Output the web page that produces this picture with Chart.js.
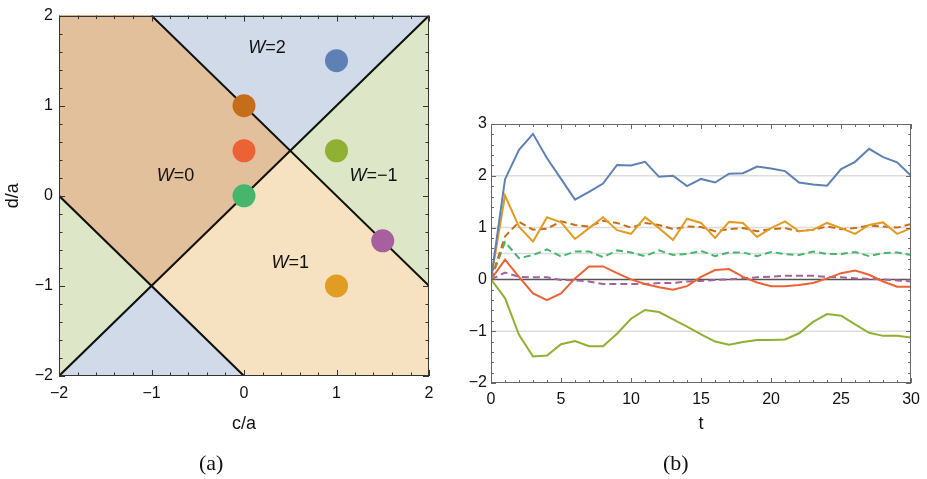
<!DOCTYPE html>
<html>
<head>
<meta charset="utf-8">
<script src="https://cdn.jsdelivr.net/npm/chart.js@4.4.1/dist/chart.umd.min.js"></script>
<style>
  html, body { margin: 0; padding: 0; background: #fff; }
  #wrap { position: relative; width: 927px; height: 479px; overflow: hidden; }
  #phase { position: absolute; left: 0; top: 0; }
  #evo { position: absolute; left: 460px; top: 0; }
  .cap { position: absolute; font-family: "Liberation Serif", "DejaVu Serif", serif; font-size: 22px; color: #111; line-height: 1; }
</style>
</head>
<body>
<div id="wrap">
  <canvas id="phase" width="460" height="479"></canvas>
  <canvas id="evo" width="467" height="479"></canvas>
  <div class="cap" style="left:199px;top:452px">(a)</div>
  <div class="cap" style="left:663px;top:452px">(b)</div>
</div>
<script>
// ---------- phase diagram (c/a, d/a) ----------
const phaseTicks = [-2, -1, 0, 1, 2];

// parameter points (c/a, d/a) and their colours
const pointC = [1, 0, 0, 0, 1, 1.5, 1];
const pointD = [1.5, 1, 0.5, 0, 0.5, -0.5, -1];
const pointColors = ['#5E81B5', '#C56E1A', '#EB6235', '#47B66D', '#8FB032', '#A5609D', '#E19C24'];

// phase boundaries
const diagC = [-2, 2], diagD = [-2, 2];       // d = c
const upperC = [-1, 2], upperD = [2, -1];     // c + d = 1
const lowerC = [-2, 0], lowerD = [0, -2];     // c + d = -2

// winding-number regions (polygon vertices)
const regionW0 = [[-2, 2], [-1, 2], [0.5, 0.5], [-1, -1], [-2, 0]];
const regionW1 = [[0.5, 0.5], [2, -1], [2, -2], [0, -2], [-1, -1]];
const regionW2 = [[-1, 2], [2, 2], [0.5, 0.5]];
const regionWm1 = [[2, 2], [2, -1], [0.5, 0.5]];
const cornerGreen = [[-2, 0], [-1, -1], [-2, -2]];
const cornerBlue = [[-1, -1], [0, -2], [-2, -2]];
const regionPolys = [regionW0, regionW1, regionW2, regionWm1, cornerGreen, cornerBlue];
const regionFills = ['#e2c09c', '#f6e1c0', '#d1dae8', '#dde6c7', '#dde6c7', '#d1dae8'];
const regionEdges = ['#b8743a', '#e0a048', '#6f8cbc', '#8faa4a', '#8faa4a', '#6f8cbc'];

// region labels
const windLabels = ['2', '0', '\u22121', '1'];
const windLabelC = [0.25, -0.74, 1.40, 0.50];
const windLabelD = [1.64, 0.22, 0.22, -0.75];

// ---------- time evolution ----------
const times = [0,1,2,3,4,5,6,7,8,9,10,11,12,13,14,15,16,17,18,19,20,21,22,23,24,25,26,27,28,29,30];
const timeTicks = [0, 5, 10, 15, 20, 25, 30];
const valueTicks = [-2, -1, 0, 1, 2, 3];
const guideValues = [-1, 0.5, 1, 2];

const wBlue   = [0, 1.93, 2.50, 2.81, 2.34, 1.94, 1.54, 1.69, 1.85, 2.21, 2.20, 2.27, 1.98, 2.00, 1.80, 1.94, 1.87, 2.04, 2.05, 2.18, 2.14, 2.09, 1.87, 1.83, 1.81, 2.13, 2.27, 2.52, 2.36, 2.26, 2.00];
const wOrange = [0, 1.62, 1.02, 0.73, 1.20, 1.10, 0.78, 0.99, 1.20, 0.95, 0.88, 1.20, 0.99, 0.76, 1.17, 1.09, 0.80, 1.11, 1.09, 0.82, 0.99, 1.12, 0.93, 0.96, 1.09, 0.99, 0.88, 1.05, 1.10, 0.88, 0.99];
const wBrown  = [0, 0.83, 1.11, 0.96, 0.98, 1.12, 1.05, 1.02, 1.13, 1.09, 1.00, 1.09, 1.05, 0.97, 1.02, 1.01, 0.93, 0.97, 0.99, 0.93, 0.97, 0.99, 0.93, 0.96, 1.02, 0.97, 0.99, 1.04, 1.02, 1.00, 1.07];
const wGreen  = [0, 0.72, 0.41, 0.47, 0.58, 0.44, 0.54, 0.54, 0.43, 0.56, 0.52, 0.45, 0.56, 0.47, 0.49, 0.55, 0.45, 0.52, 0.52, 0.45, 0.53, 0.49, 0.47, 0.54, 0.49, 0.49, 0.53, 0.45, 0.51, 0.52, 0.47];
const wRed    = [0, 0.38, 0.05, -0.27, -0.40, -0.27, 0.02, 0.25, 0.25, 0.12, 0.00, -0.09, -0.15, -0.20, -0.13, 0.05, 0.18, 0.20, 0.05, -0.06, -0.13, -0.13, -0.11, -0.07, 0.02, 0.12, 0.17, 0.09, -0.04, -0.14, -0.14];
const wPurple = [0, 0.13, 0.05, 0.04, 0.04, -0.01, -0.02, -0.04, -0.09, -0.09, -0.09, -0.09, -0.07, -0.07, -0.04, -0.03, -0.01, 0.00, 0.02, 0.04, 0.05, 0.07, 0.07, 0.07, 0.05, 0.04, 0.02, 0.01, 0.00, -0.02, -0.04];
const wOlive  = [0, -0.36, -1.07, -1.49, -1.47, -1.25, -1.19, -1.29, -1.29, -1.05, -0.76, -0.59, -0.63, -0.77, -0.91, -1.06, -1.20, -1.26, -1.21, -1.17, -1.17, -1.16, -1.04, -0.82, -0.67, -0.70, -0.87, -1.03, -1.09, -1.09, -1.12];

const FONT = '"Liberation Sans", Arial, sans-serif';
const fmt = v => String(v).replace('-', '\u2212');
const xy = (xs, ys) => xs.map((v, i) => ({ x: v, y: ys[i] }));

// frame with inward major/minor ticks on all four sides
const frameTicks = {
  id: 'frameTicks',
  afterDatasetsDraw(chart, args, o) {
    const { ctx, chartArea: a, scales: { x, y } } = chart;
    ctx.save();
    ctx.strokeStyle = o.color;
    ctx.lineWidth = 1;
    ctx.beginPath();
    const isMajor = (v, step) => Math.abs(v / step - Math.round(v / step)) < 1e-6;
    for (let v = x.min; v <= x.max + 1e-9; v += o.xMinor) {
      const len = isMajor(v, o.xMajor) ? o.majorLen : o.minorLen;
      const px = Math.round(x.getPixelForValue(v)) + 0.5;
      ctx.moveTo(px, a.bottom); ctx.lineTo(px, a.bottom - len);
      ctx.moveTo(px, a.top); ctx.lineTo(px, a.top + len);
    }
    for (let v = y.min; v <= y.max + 1e-9; v += o.yMinor) {
      const len = isMajor(v, o.yMajor) ? o.majorLen : o.minorLen;
      const py = Math.round(y.getPixelForValue(v)) + 0.5;
      ctx.moveTo(a.left, py); ctx.lineTo(a.left + len, py);
      ctx.moveTo(a.right, py); ctx.lineTo(a.right - len, py);
    }
    ctx.stroke();
    ctx.strokeRect(Math.round(a.left) + 0.5, Math.round(a.top) + 0.5, Math.round(a.width) - 1, Math.round(a.height) - 1);
    ctx.restore();
  }
};

// shaded winding-number regions and their labels
const regionShading = {
  id: 'regionShading',
  beforeDatasetsDraw(chart) {
    const { ctx, chartArea: a, scales: { x, y } } = chart;
    ctx.save();
    ctx.beginPath(); ctx.rect(a.left, a.top, a.width, a.height); ctx.clip();
    regionPolys.forEach((poly, i) => {
      ctx.beginPath();
      poly.forEach(([c, d], k) => {
        const px = x.getPixelForValue(c), py = y.getPixelForValue(d);
        k ? ctx.lineTo(px, py) : ctx.moveTo(px, py);
      });
      ctx.closePath();
      ctx.fillStyle = regionFills[i];
      ctx.fill();
      ctx.strokeStyle = regionEdges[i];
      ctx.lineWidth = 1.5;
      ctx.stroke();
    });
    ctx.fillStyle = '#111';
    ctx.textBaseline = 'middle';
    windLabels.forEach((w, i) => {
      const italic = 'italic 18px ' + FONT, upright = '18px ' + FONT;
      ctx.font = italic; const wW = ctx.measureText('W').width;
      ctx.font = upright; const rW = ctx.measureText('=' + w).width;
      const cx = x.getPixelForValue(windLabelC[i]), cy = y.getPixelForValue(windLabelD[i]);
      const x0 = cx - (wW + rW) / 2;
      ctx.textAlign = 'left';
      ctx.font = italic; ctx.fillText('W', x0, cy);
      ctx.font = upright; ctx.fillText('=' + w, x0 + wW, cy);
    });
    ctx.restore();
  }
};

// horizontal guide lines and the t-axis
const guides = {
  id: 'guides',
  beforeDatasetsDraw(chart) {
    const { ctx, chartArea: a, scales: { y } } = chart;
    ctx.save();
    ctx.lineWidth = 1.5;
    ctx.strokeStyle = '#dcdcdc';
    guideValues.forEach(v => {
      const py = y.getPixelForValue(v);
      ctx.beginPath(); ctx.moveTo(a.left, py); ctx.lineTo(a.right, py); ctx.stroke();
    });
    ctx.strokeStyle = '#555';
    const p0 = y.getPixelForValue(0);
    ctx.beginPath(); ctx.moveTo(a.left, p0); ctx.lineTo(a.right, p0); ctx.stroke();
    ctx.restore();
  }
};

const tickFont = { family: FONT, size: 16 };
const titleFont = { family: FONT, size: 18 };

new Chart(document.getElementById('phase'), {
  type: 'scatter',
  data: {
    datasets: [
      { label: 'points', data: xy(pointC, pointD), pointBackgroundColor: pointColors, pointBorderWidth: 0, pointRadius: 11.5, pointHoverRadius: 11.5 },
      { label: 'd = c', data: xy(diagC, diagD), showLine: true, borderColor: '#111', borderWidth: 2, pointRadius: 0 },
      { label: 'c + d = 1', data: xy(upperC, upperD), showLine: true, borderColor: '#111', borderWidth: 2, pointRadius: 0 },
      { label: 'c + d = -2', data: xy(lowerC, lowerD), showLine: true, borderColor: '#111', borderWidth: 2, pointRadius: 0 }
    ]
  },
  options: {
    responsive: false, animation: false, devicePixelRatio: 1,
    layout: { padding: { left: 0, right: 31, top: 6, bottom: 40 } },
    plugins: {
      legend: { display: false }, tooltip: { enabled: false },
      frameTicks: { color: '#333', xMajor: 1, xMinor: 0.2, yMajor: 1, yMinor: 0.2, majorLen: 6, minorLen: 3.5 }
    },
    scales: {
      x: {
        type: 'linear', min: -2, max: 2,
        grid: { display: false, drawTicks: false }, border: { display: false },
        afterBuildTicks: s => { s.ticks = phaseTicks.map(v => ({ value: v })); },
        afterFit: s => { s.height = 63; },
        ticks: { font: tickFont, color: '#111', padding: 8, maxRotation: 0, callback: v => fmt(v) },
        title: { display: true, text: 'c/a', font: titleFont, color: '#111', padding: { top: 0, bottom: 4 } }
      },
      y: {
        type: 'linear', min: -2, max: 2,
        grid: { display: false, drawTicks: false }, border: { display: false },
        afterBuildTicks: s => { s.ticks = phaseTicks.map(v => ({ value: v })); },
        afterFit: s => { s.width = 59; },
        ticks: { font: tickFont, color: '#111', padding: 6, callback: v => fmt(v) },
        title: { display: true, text: 'd/a', font: titleFont, color: '#111', padding: { top: 2, bottom: 0 } }
      }
    }
  },
  plugins: [regionShading, frameTicks]
});

const series = [
  { label: 'W=2 point', values: wBlue, color: '#5E81B5', dash: [] },
  { label: 'W=1 point', values: wOrange, color: '#E19C24', dash: [] },
  { label: 'W=0/2 boundary', values: wBrown, color: '#C56E1A', dash: [7, 4] },
  { label: 'W=0/1 boundary', values: wGreen, color: '#47B66D', dash: [7, 4] },
  { label: 'W=0 point', values: wRed, color: '#EB6235', dash: [] },
  { label: 'W=1/-1 boundary', values: wPurple, color: '#A5609D', dash: [7, 4] },
  { label: 'W=-1 point', values: wOlive, color: '#8FB032', dash: [] }
];

new Chart(document.getElementById('evo'), {
  type: 'line',
  data: {
    datasets: series.map(s => ({
      label: s.label, data: xy(times, s.values), borderColor: s.color, borderWidth: 2,
      borderDash: s.dash, pointRadius: 0, tension: 0, fill: false
    }))
  },
  options: {
    responsive: false, animation: false, devicePixelRatio: 1,
    layout: { padding: { left: 0, right: 15, top: 124, bottom: 36 } },
    plugins: {
      legend: { display: false }, tooltip: { enabled: false },
      frameTicks: { color: '#666', xMajor: 5, xMinor: 1, yMajor: 1, yMinor: 0.2, majorLen: 5, minorLen: 3 }
    },
    scales: {
      x: {
        type: 'linear', min: 0, max: 30,
        grid: { display: false, drawTicks: false }, border: { display: false },
        afterBuildTicks: s => { s.ticks = timeTicks.map(v => ({ value: v })); },
        afterFit: s => { s.height = 60; },
        ticks: { font: tickFont, color: '#111', padding: 7, maxRotation: 0, callback: v => fmt(v) },
        title: { display: true, text: 't', font: titleFont, color: '#111', padding: { top: 0, bottom: 8 } }
      },
      y: {
        type: 'linear', min: -2, max: 3,
        grid: { display: false, drawTicks: false }, border: { display: false },
        afterBuildTicks: s => { s.ticks = valueTicks.map(v => ({ value: v })); },
        afterFit: s => { s.width = 31; },
        ticks: { font: tickFont, color: '#111', padding: 4, callback: v => fmt(v) }
      }
    }
  },
  plugins: [guides, frameTicks]
});
</script>
</body>
</html>
